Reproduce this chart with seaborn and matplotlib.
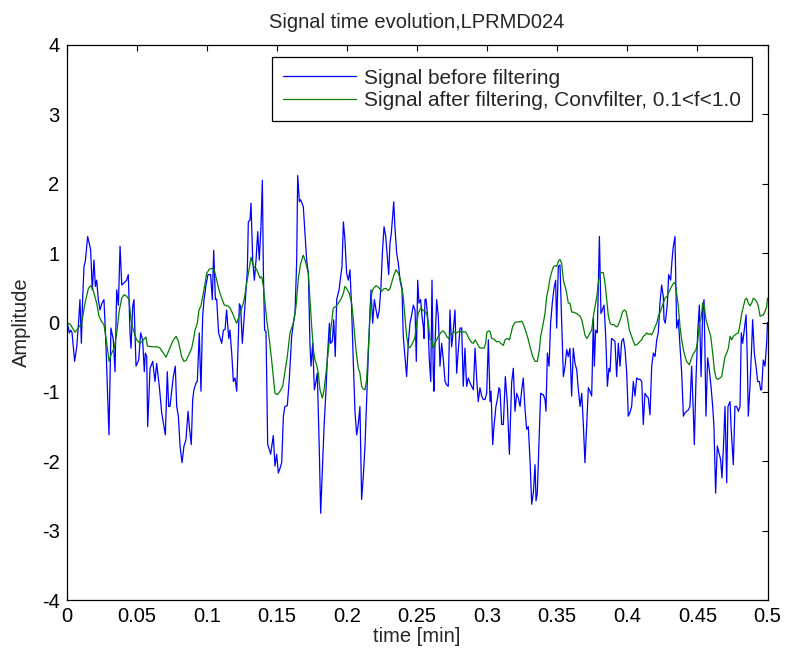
import matplotlib
matplotlib.use("Agg")
import matplotlib.pyplot as plt
import seaborn as sns
import pandas as pd

# ---------------- data ----------------
t_before = [
    0.0006, 0.0020, 0.0030, 0.0039, 0.0058, 0.0073, 0.0084, 0.0096, 0.0106, 0.0115,
    0.0125, 0.0134, 0.0151, 0.0172, 0.0184, 0.0196, 0.0206, 0.0215, 0.0227, 0.0239,
    0.0253, 0.0267, 0.0279, 0.0303, 0.0317, 0.0334, 0.0346, 0.0358, 0.0370, 0.0382,
    0.0394, 0.0410, 0.0429, 0.0441, 0.0453, 0.0460, 0.0472, 0.0481, 0.0496, 0.0515,
    0.0529, 0.0543, 0.0555, 0.0562, 0.0572, 0.0579, 0.0596, 0.0615, 0.0631, 0.0643,
    0.0662, 0.0679, 0.0705, 0.0719, 0.0729, 0.0738, 0.0762, 0.0776, 0.0786, 0.0798,
    0.0810, 0.0824, 0.0838,
    0.0852, 0.0867, 0.0876, 0.0890, 0.0900, 0.0909, 0.0924, 0.0933, 0.0947, 0.0959,
    0.0971, 0.0981, 0.0995, 0.1009, 0.1028, 0.1040, 0.1050, 0.1062, 0.1071, 0.1085,
    0.1107, 0.1119, 0.1131, 0.1142, 0.1157, 0.1166, 0.1180, 0.1190, 0.1202, 0.1214,
    0.1233, 0.1242, 0.1254, 0.1266, 0.1276, 0.1290, 0.1297, 0.1309, 0.1316, 0.1328,
    0.1340, 0.1352, 0.1364, 0.1375, 0.1387, 0.1397, 0.1404, 0.1413, 0.1423, 0.1435,
    0.1447, 0.1456, 0.1475, 0.1487, 0.1499, 0.1511, 0.1523, 0.1535, 0.1547, 0.1558,
    0.1575, 0.1589, 0.1606, 0.1618, 0.1630, 0.1642, 0.1649, 0.1661, 0.1670,
    0.1689, 0.1701, 0.1713, 0.1725, 0.1737, 0.1744, 0.1756, 0.1768, 0.1780, 0.1789,
    0.1803, 0.1813, 0.1825, 0.1837, 0.1851, 0.1860, 0.1875, 0.1884, 0.1896, 0.1906,
    0.1917, 0.1927, 0.1944, 0.1956, 0.1965, 0.1975, 0.1986, 0.1998, 0.2010, 0.2022,
    0.2034, 0.2046, 0.2058, 0.2070, 0.2082, 0.2093, 0.2105, 0.2117, 0.2129, 0.2141,
    0.2153, 0.2165, 0.2172, 0.2184, 0.2196, 0.2208, 0.2219, 0.2231, 0.2243, 0.2253,
    0.2265, 0.2277, 0.2286, 0.2298, 0.2307, 0.2317, 0.2334, 0.2343, 0.2355, 0.2367,
    0.2379, 0.2393, 0.2402, 0.2414, 0.2426, 0.2438, 0.2450, 0.2462, 0.2474, 0.2486,
    0.2495, 0.2505, 0.2514, 0.2526, 0.2536, 0.2545,
    0.2550, 0.2557, 0.2564, 0.2576, 0.2588, 0.2598, 0.2607, 0.2616, 0.2621, 0.2628,
    0.2640, 0.2652, 0.2664, 0.2676, 0.2688, 0.2700, 0.2712, 0.2723, 0.2735, 0.2747,
    0.2759, 0.2771, 0.2783, 0.2795, 0.2807, 0.2819, 0.2830, 0.2842, 0.2854, 0.2866,
    0.2878, 0.2890, 0.2902, 0.2914, 0.2926, 0.2937, 0.2949, 0.2961, 0.2973, 0.2985,
    0.2997, 0.3009, 0.3021, 0.3028, 0.3040, 0.3049, 0.3063, 0.3073, 0.3085, 0.3092,
    0.3104, 0.3116, 0.3130, 0.3144, 0.3159, 0.3175, 0.3187, 0.3199, 0.3211, 0.3223,
    0.3235, 0.3247, 0.3258, 0.3270, 0.3282, 0.3294, 0.3306, 0.3318, 0.3330, 0.3342,
    0.3349, 0.3358, 0.3370, 0.3382, 0.3396,
    0.3401, 0.3413, 0.3420, 0.3430, 0.3442, 0.3453, 0.3465, 0.3477, 0.3489, 0.3496,
    0.3508, 0.3520, 0.3532, 0.3544, 0.3556, 0.3568, 0.3579, 0.3591, 0.3603, 0.3615,
    0.3627, 0.3639, 0.3651, 0.3663, 0.3675, 0.3686, 0.3698, 0.3710, 0.3722, 0.3734,
    0.3746, 0.3758, 0.3765, 0.3774, 0.3786, 0.3801, 0.3812, 0.3822, 0.3834, 0.3846,
    0.3858, 0.3869, 0.3877, 0.3888, 0.3900, 0.3912, 0.3924, 0.3936, 0.3948, 0.3960,
    0.3972, 0.3984, 0.3996, 0.4007, 0.4019, 0.4031, 0.4043, 0.4055, 0.4067, 0.4079,
    0.4091, 0.4103, 0.4114, 0.4126, 0.4138, 0.4150, 0.4162, 0.4174, 0.4186, 0.4198,
    0.4210, 0.4221, 0.4233, 0.4245, 0.4257,
    0.4262, 0.4271, 0.4286, 0.4295, 0.4309, 0.4319, 0.4328, 0.4340, 0.4352, 0.4364,
    0.4376, 0.4388, 0.4400, 0.4412, 0.4423, 0.4435, 0.4447, 0.4459, 0.4471, 0.4478,
    0.4490, 0.4502, 0.4514, 0.4526, 0.4538, 0.4547, 0.4554, 0.4561, 0.4573, 0.4585,
    0.4597, 0.4609, 0.4618, 0.4630, 0.4642, 0.4654, 0.4666, 0.4675, 0.4685, 0.4697,
    0.4709, 0.4718, 0.4733, 0.4740, 0.4756, 0.4768, 0.4780, 0.4792, 0.4804, 0.4813,
    0.4823, 0.4832, 0.4847, 0.4856, 0.4863, 0.4875, 0.4887, 0.4894, 0.4906, 0.4918,
    0.4930, 0.4942, 0.4951, 0.4958, 0.4970, 0.4982, 0.4994, 0.5000,
]
amp_before = [
    -0.01, -0.15, -0.11, -0.14, -0.56, -0.35, -0.06, 0.33, -0.30, 0.33,
    0.81, 0.88, 1.24, 1.05, 0.47, 0.90, 0.52, 0.61, 0.33, 0.18,
    0.28, 0.33, -0.20, -1.62, -0.08, -0.25, -0.71, 0.47, 0.25, 1.10,
    0.54, 0.57, 0.61, 0.69, -0.15, -0.37, 0.23, 0.33, -0.63, -0.54,
    -0.15, -0.25, -0.71, -0.44, -0.49, -1.50, -0.66, -0.56, -0.85, -0.59,
    -0.92, -1.30, -1.62, -0.71, -1.21, -1.21, -0.78, -0.63, -1.21, -1.35,
    -1.78, -2.02, -1.78,
    -1.69, -1.28, -1.50, -1.76, -1.11, -0.97, -0.87, -0.85, -0.15, -0.99,
    0.09, 0.33, 0.54, 0.69, 0.69, 0.33, 1.04, 0.33, 0.34, -0.15,
    -0.30, -0.11, -0.10, 0.18, -0.23, -0.11, -0.49, -0.85, -0.80, -0.99,
    0.27, 0.23, -0.30, 0.04, 0.33, 0.76, 1.45, 1.48, 1.72, 0.90,
    0.61, 0.90, 1.31, 0.90, 1.38, 2.05, 0.76, -0.11, -0.13, -1.76,
    -1.83, -1.90, -1.63, -2.07, -1.90, -2.17, -2.10, -2.02, -1.35, -1.21,
    -1.20, -0.82, -0.20, -0.01, 0.13, 0.90, 2.12, 1.74, 1.77,
    1.67, 1.29, 0.90, 0.71, -0.35, -0.63, -0.30, -0.97, -0.85, -0.73,
    -1.83, -2.75, -2.12, -1.50, -0.97, -0.54, -0.01, -0.30, -0.27, 0.04,
    -0.49, 0.33, 0.47, 0.66, 0.81, 1.45, 1.19, 0.71, 0.61, 0.76,
    0.18, -0.59, -1.30, -1.62, -1.45, -1.21, -2.55, -2.22, -1.78, -1.11,
    -0.44, 0.18, 0.47, -0.01, 0.33, 0.18, 0.06, 0.18, 0.52, 1.00,
    1.38, 1.24, 1.00, 0.69, 1.14, 1.29, 1.74, 1.36, 1.00, 0.85,
    0.61, 0.47, -0.20, -0.49, -0.78, -0.30, -0.01, 0.11, 0.25, 0.18,
    -0.56, 0.61, 0.28, 0.33, 0.09, -0.06,
    -0.23, 0.33, 0.34, 0.09, -0.54, -0.85, 0.61, -0.73, -0.99, -0.35,
    0.33, 0.09, -0.63, -0.30, -0.54, -0.85, -0.90, -0.92, 0.18, -0.35,
    -0.11, 0.18, -0.73, -0.39, -0.08, -0.08, -0.92, -0.37, -0.92, -0.80,
    -0.87, -0.92, -0.97, -0.37, -0.82, -1.14, -0.94, -1.06, -1.11, -1.11,
    -1.02, -0.25, -1.14, -0.99, -1.76, -1.50, -1.21, -1.11, -0.94, -0.97,
    -1.47, -1.47, -0.78, -1.16, -1.90, -0.87, -0.66, -1.28, -1.02, -1.09,
    -1.21, -0.97, -0.80, -1.23, -1.54, -1.50, -1.98, -2.62, -2.45, -2.05,
    -2.57, -2.46, -1.76, -1.02, -1.04,
    -1.04, -1.11, -1.28, -0.44, -0.63, -0.01, 0.28, 0.49, 0.61, -0.08,
    0.81, 0.83, -0.01, -0.78, -0.63, -0.39, -0.49, -0.37, -1.06, -0.37,
    -0.59, -0.68, -0.97, -1.21, -1.02, -1.45, -2.02, -1.50, -0.94, -0.99,
    -1.06, 0.06, -0.63, -0.11, -0.15, 1.24, 0.13, 0.18, 0.25, -0.20,
    -0.92, -0.66, -0.71, -0.23, -0.25, -0.27, -0.78, -0.30, -0.63, -0.27,
    -0.23, -0.39, -0.73, -1.35, -1.30, -1.21, -0.85, -1.06, -0.80, -0.82,
    -0.82, -0.85, -1.47, -1.02, -1.06, -1.09, -1.33, -0.63, -0.44, -0.49,
    -0.25, -0.15, 0.28, 0.54, 0.37,
    0.04, -0.01, 0.28, 0.69, 0.61, 0.90, 1.09, 1.24, -0.08, 0.04,
    -0.35, -0.73, -1.35, -1.30, -1.28, -1.26, -1.21, -0.63, -1.30, -1.76,
    -0.82, -0.15, 0.25, -0.78, 0.18, 0.33, -0.44, -1.35, -0.51, -0.68,
    -0.92, -1.21, -1.50, -2.46, -1.78, -1.88, -1.98, -2.24, -1.83, -1.21,
    -2.31, -1.21, -1.14, -1.50, -2.05, -1.21, -1.21, -1.28, -1.21, -0.15,
    -0.30, -0.15, 0.11, -0.54, -1.35, -0.92, -0.35, 0.04, -0.44, -0.63,
    -0.85, -0.85, -0.97, -0.97, -0.54, -0.63, -0.30, 0.00,
]

t_after = [
    0.0000, 0.0025, 0.0061, 0.0084, 0.0108, 0.0132, 0.0156, 0.0172, 0.0187, 0.0203,
    0.0215, 0.0232, 0.0251, 0.0267, 0.0287, 0.0303, 0.0322, 0.0341, 0.0358, 0.0377,
    0.0394, 0.0410, 0.0429, 0.0446, 0.0460, 0.0477, 0.0500, 0.0524, 0.0548, 0.0567,
    0.0577, 0.0607, 0.0631, 0.0648, 0.0667, 0.0691, 0.0710, 0.0733, 0.0757, 0.0781,
    0.0798, 0.0821, 0.0838,
    0.0852, 0.0869, 0.0893, 0.0905, 0.0917, 0.0933, 0.0945, 0.0959, 0.0976, 0.0988,
    0.1000, 0.1019, 0.1040, 0.1054, 0.1071, 0.1085, 0.1107, 0.1126, 0.1150, 0.1166,
    0.1185, 0.1202, 0.1214, 0.1238, 0.1261, 0.1273, 0.1285, 0.1302, 0.1316, 0.1333,
    0.1352, 0.1368, 0.1380, 0.1392, 0.1404, 0.1416, 0.1428, 0.1447, 0.1463, 0.1475,
    0.1487, 0.1504, 0.1523, 0.1542, 0.1558, 0.1575, 0.1594, 0.1618, 0.1637, 0.1654,
    0.1670,
    0.1689, 0.1701, 0.1713, 0.1725, 0.1737, 0.1749, 0.1761, 0.1772, 0.1784, 0.1796,
    0.1808, 0.1825, 0.1837, 0.1851, 0.1868, 0.1884, 0.1903, 0.1922, 0.1939, 0.1956,
    0.1975, 0.1986, 0.1998, 0.2017, 0.2034, 0.2046, 0.2058, 0.2070, 0.2082, 0.2093,
    0.2105, 0.2117, 0.2129, 0.2141, 0.2153, 0.2165, 0.2177, 0.2189, 0.2208, 0.2224,
    0.2248, 0.2265, 0.2279, 0.2296, 0.2307, 0.2319, 0.2336, 0.2350, 0.2367, 0.2379,
    0.2391, 0.2402, 0.2414, 0.2426, 0.2438, 0.2450, 0.2462, 0.2479, 0.2486, 0.2498,
    0.2509, 0.2526, 0.2540,
    0.2557, 0.2569, 0.2581, 0.2593, 0.2605, 0.2616, 0.2628, 0.2640, 0.2652, 0.2669,
    0.2683, 0.2700, 0.2712, 0.2726, 0.2735, 0.2754, 0.2771, 0.2783, 0.2797, 0.2811,
    0.2826, 0.2835, 0.2847, 0.2859, 0.2873, 0.2890, 0.2902, 0.2914, 0.2926, 0.2945,
    0.2961, 0.2978, 0.2990, 0.2997, 0.3009, 0.3021, 0.3033, 0.3049, 0.3068, 0.3080,
    0.3097, 0.3116, 0.3128, 0.3144, 0.3159, 0.3168, 0.3182, 0.3199, 0.3216, 0.3235,
    0.3247, 0.3258, 0.3277, 0.3294, 0.3306, 0.3325, 0.3342, 0.3358, 0.3373, 0.3382,
    0.3396,
    0.3413, 0.3425, 0.3437, 0.3449, 0.3461, 0.3472, 0.3484, 0.3496, 0.3508, 0.3520,
    0.3532, 0.3544, 0.3556, 0.3568, 0.3579, 0.3591, 0.3603, 0.3615, 0.3639, 0.3651,
    0.3663, 0.3675, 0.3686, 0.3698, 0.3710, 0.3722, 0.3734, 0.3746, 0.3758, 0.3770,
    0.3782, 0.3793, 0.3805, 0.3817, 0.3829, 0.3841, 0.3853, 0.3865, 0.3877, 0.3888,
    0.3905, 0.3919, 0.3929, 0.3941, 0.3953, 0.3967, 0.3979, 0.3991, 0.4003, 0.4015,
    0.4031, 0.4043, 0.4055, 0.4067, 0.4079, 0.4091, 0.4103, 0.4114, 0.4126, 0.4138,
    0.4150, 0.4162, 0.4174, 0.4186, 0.4198, 0.4210, 0.4221, 0.4233, 0.4245, 0.4257,
    0.4269, 0.4281, 0.4293, 0.4304, 0.4316, 0.4328, 0.4340, 0.4352, 0.4364, 0.4376,
    0.4388, 0.4400, 0.4412, 0.4423, 0.4442, 0.4454, 0.4466, 0.4478, 0.4490, 0.4502,
    0.4514, 0.4526, 0.4538, 0.4549, 0.4561, 0.4578, 0.4595, 0.4609, 0.4621, 0.4633,
    0.4645, 0.4661, 0.4673, 0.4685, 0.4697, 0.4709, 0.4721, 0.4733, 0.4745, 0.4756,
    0.4768, 0.4780, 0.4792, 0.4804, 0.4816, 0.4828, 0.4840, 0.4852, 0.4863, 0.4875,
    0.4887, 0.4899, 0.4911, 0.4923, 0.4935, 0.4947, 0.4958, 0.4970, 0.4982, 0.4994,
    0.5000,
]
amp_after = [
    -0.01, -0.02, -0.14, -0.08, -0.01, 0.28, 0.49, 0.53, 0.49, 0.37,
    0.28, 0.09, 0.01, -0.03, -0.30, -0.56, -0.44, -0.37, -0.15, 0.18,
    0.35, 0.40, 0.38, 0.33, 0.04, -0.11, -0.25, -0.30, -0.25, -0.21,
    -0.34, -0.35, -0.35, -0.35, -0.37, -0.44, -0.50, -0.39, -0.27, -0.20,
    -0.27, -0.49, -0.56,
    -0.55, -0.48, -0.37, -0.25, -0.11, -0.01, 0.18, 0.24, 0.42, 0.57,
    0.71, 0.77, 0.78, 0.76, 0.61, 0.49, 0.35, 0.25, 0.24, 0.21,
    0.13, 0.04, -0.01, 0.13, 0.28, 0.40, 0.57, 0.76, 0.94, 0.81,
    0.78, 0.71, 0.64, 0.66, 0.52, 0.28, 0.04, -0.25, -0.54, -0.78,
    -1.02, -1.04, -0.99, -0.92, -0.71, -0.49, -0.15, -0.01, 0.23, 0.64,
    0.85,
    0.97, 0.90, 0.81, 0.71, 0.33, -0.06, -0.39, -0.54, -0.61, -0.73,
    -0.97, -1.09, -0.97, -0.73, -0.39, -0.11, 0.21, 0.23, 0.28, 0.33,
    0.42, 0.52, 0.49, 0.42, 0.28, 0.04, -0.25, -0.49, -0.66, -0.73,
    -0.92, -0.96, -0.97, -0.82, -0.35, 0.09, 0.42, 0.49, 0.53, 0.51,
    0.45, 0.49, 0.49, 0.46, 0.49, 0.57, 0.69, 0.76, 0.71, 0.64,
    0.52, 0.37, 0.09, -0.20, -0.35, -0.36, -0.32, -0.25, -0.20, -0.01,
    0.13, 0.21, 0.18,
    0.16, 0.13, -0.01, -0.25, -0.25, -0.37, -0.30, -0.25, -0.20, -0.15,
    -0.12, -0.15, -0.20, -0.23, -0.18, -0.15, -0.13, -0.15, -0.13, -0.13,
    -0.14, -0.13, -0.14, -0.18, -0.24, -0.29, -0.30, -0.25, -0.29, -0.36,
    -0.37, -0.37, -0.30, -0.15, -0.12, -0.13, -0.23, -0.24, -0.28, -0.27,
    -0.30, -0.33, -0.25, -0.23, -0.25, -0.18, -0.06, 0.00, 0.01, 0.01,
    0.02, -0.02, -0.13, -0.25, -0.35, -0.49, -0.56, -0.56, -0.39, -0.20,
    -0.06,
    0.13, 0.37, 0.49, 0.64, 0.73, 0.80, 0.82, 0.81, 0.88, 0.91,
    0.85, 0.61, 0.52, 0.42, 0.28, 0.28, 0.15, 0.15, 0.13, 0.11,
    0.09, 0.04, -0.06, -0.18, -0.23, -0.20, -0.15, -0.11, 0.09, 0.23,
    0.37, 0.57, 0.71, 0.72, 0.72, 0.57, 0.33, 0.09, -0.01, -0.03,
    -0.03, -0.06, -0.06, -0.01, 0.06, 0.16, 0.18, 0.16, 0.04, -0.11,
    -0.20, -0.27, -0.33, -0.32, -0.30, -0.27, -0.25, -0.20, -0.18, -0.15,
    -0.17, -0.16, -0.18, -0.13, -0.06, -0.01, 0.09, 0.14, 0.21, 0.28,
    0.35, 0.37, 0.42, 0.47, 0.52, 0.56, 0.58, 0.42, 0.23, -0.06,
    -0.25, -0.39, -0.49, -0.56, -0.61, -0.54, -0.47, -0.43, -0.39, -0.27,
    -0.01, 0.06, 0.28, 0.23, 0.04, -0.08, -0.20, -0.44, -0.68, -0.80,
    -0.82, -0.80, -0.78, -0.63, -0.49, -0.44, -0.37, -0.20, -0.25, -0.20,
    -0.18, -0.16, -0.15, -0.03, 0.13, 0.23, 0.33, 0.35, 0.28, 0.24,
    0.28, 0.35, 0.33, 0.30, 0.23, 0.09, 0.10, 0.11, 0.16, 0.23,
    0.35,
]

x_ticks = [0, 0.05, 0.1, 0.15, 0.2, 0.25, 0.3, 0.35, 0.4, 0.45, 0.5]
x_tick_labels = ["0", "0.05", "0.1", "0.15", "0.2", "0.25", "0.3", "0.35", "0.4", "0.45", "0.5"]
y_ticks = [-4, -3, -2, -1, 0, 1, 2, 3, 4]
y_tick_labels = ["-4", "-3", "-2", "-1", "0", "1", "2", "3", "4"]

label_before = "Signal before filtering"
label_after = "Signal after filtering, Convfilter, 0.1<f<1.0"
title_text = "Signal time evolution,LPRMD024"

# ---------------- style ----------------
sns.set_style("white")
plt.rcParams["font.family"] = ["Liberation Sans", "DejaVu Sans"]
plt.rcParams["axes.unicode_minus"] = False

FS = 14.5
W, H = 785, 655
fig = plt.figure(figsize=(W / 100, H / 100), dpi=100)
fig.patch.set_facecolor("white")
ax = fig.add_axes([66.5 / W, 55 / H, 701 / W, 555 / H])

df_b = pd.DataFrame({"t": t_before, "a": amp_before})
df_a = pd.DataFrame({"t": t_after, "a": amp_after})

sns.lineplot(data=df_b, x="t", y="a", sort=False, estimator=None, ax=ax,
             color="#0000ff", linewidth=0.9, label=label_before)
sns.lineplot(data=df_a, x="t", y="a", sort=False, estimator=None, ax=ax,
             color="#008000", linewidth=0.9, label=label_after)

ax.set_xlim(0, 0.5)
ax.set_ylim(-4, 4)
ax.set_xticks(x_ticks)
ax.set_xticklabels(x_tick_labels)
ax.set_yticks(y_ticks)
ax.set_yticklabels(y_tick_labels)
ax.tick_params(axis="both", which="major", direction="in", length=4.5, width=0.8,
               top=True, right=True, labelsize=FS, colors="black", pad=5)

for s in ax.spines.values():
    s.set_visible(True)
    s.set_color("black")
    s.set_linewidth(0.9)

ax.set_title(title_text, fontsize=FS, pad=12)
ax.set_xlabel("time [min]", fontsize=FS, labelpad=1)
ax.set_ylabel("Amplitude", fontsize=FS, labelpad=8)

leg = ax.legend(loc="upper right", bbox_to_anchor=(0.978, 0.978), fontsize=15,
                frameon=True, fancybox=False, framealpha=1, edgecolor="black",
                handlelength=3.5, handletextpad=0.35, borderpad=0.55,
                labelspacing=0.15, borderaxespad=0)
leg.get_frame().set_linewidth(0.9)

fig.savefig("out.png", dpi=100, facecolor="white")
